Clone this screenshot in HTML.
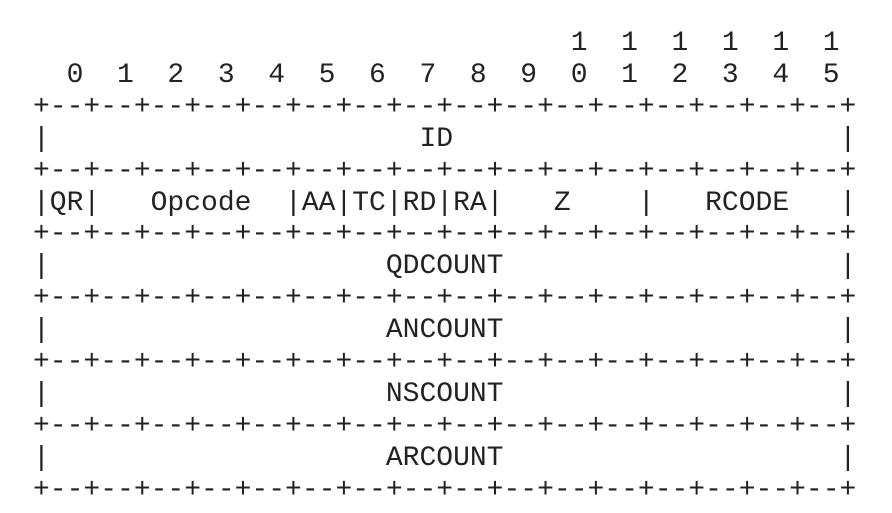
<!DOCTYPE html>
<html>
<head>
<meta charset="utf-8">
<style>
  html, body { margin: 0; padding: 0; background: #ffffff; }
  body { width: 892px; height: 513px; overflow: hidden; position: relative; }
  pre {
    position: absolute;
    left: 33px;
    top: 28px;
    margin: 0;
    font-family: "Liberation Mono", monospace;
    font-size: 28px;
    line-height: 31.9px;
    color: #222222;
  }
</style>
</head>
<body>
<pre>                                1  1  1  1  1  1
  0  1  2  3  4  5  6  7  8  9  0  1  2  3  4  5
+--+--+--+--+--+--+--+--+--+--+--+--+--+--+--+--+
|                      ID                       |
+--+--+--+--+--+--+--+--+--+--+--+--+--+--+--+--+
|QR|   Opcode  |AA|TC|RD|RA|   Z    |   RCODE   |
+--+--+--+--+--+--+--+--+--+--+--+--+--+--+--+--+
|                    QDCOUNT                    |
+--+--+--+--+--+--+--+--+--+--+--+--+--+--+--+--+
|                    ANCOUNT                    |
+--+--+--+--+--+--+--+--+--+--+--+--+--+--+--+--+
|                    NSCOUNT                    |
+--+--+--+--+--+--+--+--+--+--+--+--+--+--+--+--+
|                    ARCOUNT                    |
+--+--+--+--+--+--+--+--+--+--+--+--+--+--+--+--+</pre>
</body>
</html>
